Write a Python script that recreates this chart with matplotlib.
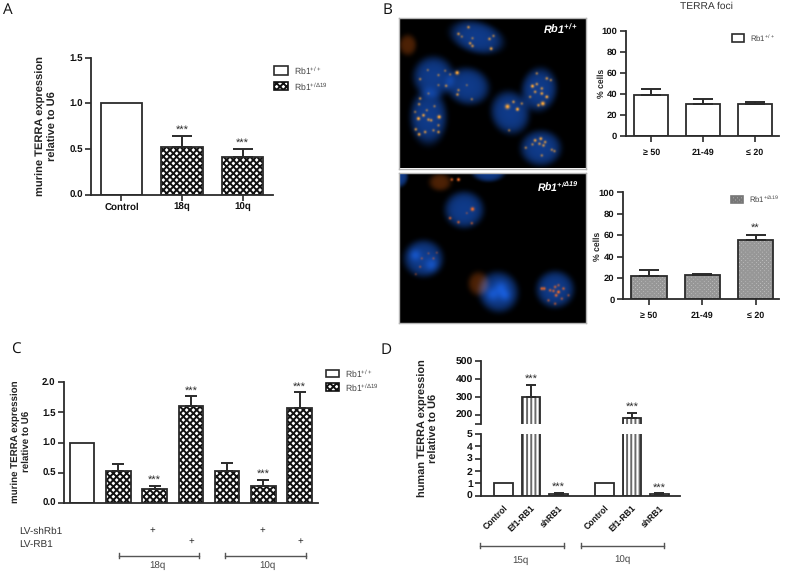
import numpy as np
import matplotlib
matplotlib.use('Agg')
import matplotlib.pyplot as plt
from matplotlib.patches import Rectangle

plt.rcParams['font.family'] = ['Liberation Sans', 'DejaVu Sans']
plt.rcParams['mathtext.default'] = 'regular'
plt.rcParams['hatch.linewidth'] = 1.4
plt.rcParams['text.hinting'] = 'no_hinting'

W, H = 787, 576
INK = '#2b2b2b'

# panel A
a_labels = ['Control', '18q', '10q']
a_values = [1.0, 0.52, 0.41]
a_errors = [0, 0.125, 0.095]

# panel B
b_labels = ['≥ 50', '21-49', '≤ 20']
b_top_values = [39, 30.5, 30]
b_top_errors = [5.5, 4, 2]
b_bot_values = [22, 22.5, 55]
b_bot_errors = [5, 1, 5.5]

# panel C
c_values = [1.0, 0.52, 0.22, 1.6, 0.52, 0.27, 1.57]
c_errors = [0, 0.12, 0.065, 0.165, 0.145, 0.115, 0.265]

# panel D
d_labels = ['Control', 'Ef1-RB1', 'shRB1', 'Control', 'Ef1-RB1', 'shRB1']
d_values = [1, 300, 0.15, 1, 180, 0.1]
d_errors = [0, 65, 0.1, 0, 30, 0.08]

# microscopy stand-ins (x, y, rx, ry, angle)
top_nuclei = [(245, 72, 80, 46, 15), (115, 190, 60, 60, 0), (218, 218, 64, 54, 15),
              (100, 310, 54, 80, 0), (345, 297, 56, 64, -20), (432, 228, 52, 64, 10),
              (437, 403, 60, 52, 0)]
top_haze = [(38, 95, 25, 30, 0)]
top_foci = [(220, 42, 1), (190, 62, 1), (232, 75, .7), (225, 90, 1), (232, 98, 1), (283, 77, 1),
            (295, 68, .8), (288, 106, 1.2), (200, 70, .7), (98, 170, .6), (130, 185, .7),
            (150, 172, .6), (165, 183, .6), (75, 197, .8), (153, 217, .9), (130, 215, .6),
            (186, 178, 2), (190, 230, .8), (187, 243, 1), (230, 257, .7), (215, 215, .5),
            (75, 255, .9), (72, 272, .9), (100, 240, .6), (118, 278, .7), (85, 305, 1.2),
            (70, 315, 1.6), (132, 310, 1.8), (100, 318, 1), (108, 320, 1), (62, 347, 1),
            (72, 362, 1.2), (90, 355, 1), (115, 350, .8), (130, 355, 1), (130, 335, .8),
            (95, 290, .7), (60, 295, .7), (337, 279, 3), (367, 287, 1.5), (355, 265, 1),
            (380, 270, .8), (342, 350, .7), (443, 270, 2.4), (412, 218, 1.5), (425, 212, 1),
            (440, 240, 1.2), (455, 250, 1.3), (425, 180, .8), (455, 195, 1), (467, 200, .8),
            (405, 250, .8), (430, 275, 1), (440, 225, 1), (420, 235, 1), (437, 375, 1.3),
            (420, 380, 1.2), (433, 390, 1), (450, 385, 1), (445, 395, 1), (392, 402, .8),
            (412, 392, .8), (470, 408, .8), (478, 412, .8), (440, 425, .8)]

bot_nuclei = [(207, 120, 58, 54, 0), (85, 265, 58, 54, 0), (310, 365, 58, 60, -30),
              (480, 357, 56, 54, 0), (280, 8, 48, 28, 0), (12, 20, 26, 32, 0)]
bot_haze = [(135, 38, 32, 25, 0), (250, 340, 30, 34, 0)]
bot_foci = [(232, 118, 2), (165, 145, 1), (190, 157, 1), (230, 160, .8), (215, 130, .5),
            (170, 30, 1), (190, 30, 1.4), (100, 250, .5), (115, 265, .6), (125, 248, .5),
            (80, 265, .6), (75, 290, .6), (62, 312, .5), (440, 355, 1.2), (447, 355, 1.2),
            (465, 360, 1), (480, 350, 1), (490, 365, 1.4), (505, 355, 1), (483, 375, 1.2),
            (475, 362, 1), (460, 390, .8), (480, 400, .8), (500, 385, .8), (520, 375, .7),
            (490, 345, .8)]
bot_bright = [(318, 352, 14), (292, 372, 14), (330, 375, 12), (110, 285, 14), (60, 255, 12)]


def px_axes(fig, left, top, right, bottom):
    return fig.add_axes([left / W, 1 - bottom / H, (right - left) / W, (bottom - top) / H])


def style_axes(ax):
    for side in ['top', 'right']:
        ax.spines[side].set_visible(False)
    for side in ['left', 'bottom']:
        ax.spines[side].set_linewidth(1.3)
        ax.spines[side].set_color(INK)
    ax.tick_params(width=1.2, length=4, color=INK, labelcolor='#111111', pad=2)
    for lab in ax.get_yticklabels() + ax.get_xticklabels():
        lab.set_fontweight('bold')


def draw_bars(ax, x, values, errors, width, kinds, cap, lw=1.3):
    for xi, v, e, kind in zip(x, values, errors, kinds):
        if kind == 'check':
            ax.bar(xi, v, width, color='white', edgecolor='#111111', hatch='xxxxx', linewidth=0)
        elif kind == 'fine':
            ax.bar(xi, v, width, color='#c4c4c4', edgecolor='#979797', hatch='xxxxxxxx', linewidth=0)
        elif kind == 'stripe':
            ax.bar(xi, v, width, color='white', edgecolor='#6a6a6a', hatch='||||', linewidth=0)
        ax.bar(xi, v, width, fill=False, edgecolor=INK, linewidth=lw)
        if e > 0:
            ax.errorbar(xi, v, yerr=[[0], [e]], color=INK, capsize=cap, elinewidth=1.4, capthick=1.4)


def legend_item(over, x0, x1, y0, y1, label, check=None, size=6.2):
    if check == 'check':
        over.add_patch(Rectangle((x0, y0), x1 - x0, y1 - y0, facecolor='white', edgecolor='#111111', hatch='xxxxx', lw=1.2))
    elif check == 'fine':
        over.add_patch(Rectangle((x0, y0), x1 - x0, y1 - y0, facecolor='#c4c4c4', edgecolor='#777777', hatch='xxxxxxxx', lw=1.2))
    else:
        over.add_patch(Rectangle((x0, y0), x1 - x0, y1 - y0, facecolor='white', edgecolor=INK, lw=1.2))
    over.text(x1 + 6, (y0 + y1) / 2, label, fontsize=size, color='#444444', va='center')


def bracket(over, x0, x1, y, label, label_x, label_y):
    over.plot([x0, x1], [y, y], color='#555555', lw=1)
    for xe in [x0, x1]:
        over.plot([xe, xe], [y - 2.5, y + 2.5], color='#555555', lw=1)
    over.text(label_x, label_y, label, fontsize=7, color='#444444', ha='center', va='center')


def render_photo(ax, w, h, nuclei, haze, foci, focus_rgb, bright=()):
    yy, xx = np.mgrid[0:h, 0:w]
    img = np.zeros((h, w, 3))
    blue = np.array([0.06, 0.23, 0.54])
    for cx, cy, rx, ry, ang in nuclei:
        t = np.deg2rad(ang)
        u = (xx - cx) * np.cos(t) + (yy - cy) * np.sin(t)
        v = -(xx - cx) * np.sin(t) + (yy - cy) * np.cos(t)
        r2 = (u / rx) ** 2 + (v / ry) ** 2
        mask = np.exp(-r2 ** 3) * (0.8 + 0.2 * np.exp(-r2))
        img += mask[..., None] * blue
    for cx, cy, r in bright:
        blob = np.exp(-((xx - cx) ** 2 + (yy - cy) ** 2) / (2 * r ** 2))
        img += blob[..., None] * blue * 0.45
    for cx, cy, rx, ry, ang in haze:
        r2 = ((xx - cx) / rx) ** 2 + ((yy - cy) / ry) ** 2
        img += np.exp(-r2 ** 2)[..., None] * np.array([0.30, 0.13, 0.02])
    for cx, cy, amp in foci:
        sigma = 2.2 + 0.9 * amp
        blob = np.exp(-((xx - cx) ** 2 + (yy - cy) ** 2) / (2 * sigma ** 2)) * min(0.7 * amp, 1.0)
        img = img * (1 - blob[..., None]) + blob[..., None] * np.array(focus_rgb)
    ax.imshow(np.clip(img, 0, 1), extent=(0, w, h, 0), interpolation='bilinear', aspect='auto')
    ax.set_xticks([])
    ax.set_yticks([])
    for s in ax.spines.values():
        s.set_color('#b5b5b5')
        s.set_linewidth(1)


fig = plt.figure(figsize=(W / 100, H / 100), dpi=100, facecolor='white')

# overlay in pixel coordinates for notes, legends and stars
over = fig.add_axes([0, 0, 1, 1], zorder=10)
over.set_xlim(0, W)
over.set_ylim(H, 0)
over.axis('off')

# A
ax = px_axes(fig, 91, 57.7, 273, 194.7)
x = np.arange(len(a_values))
draw_bars(ax, x, a_values, a_errors, 0.68, ['plain', 'check', 'check'], 7.2)
ax.set_xlim(-0.504, 2.504)
ax.set_ylim(0, 1.5)
ax.set_yticks([0, 0.5, 1.0, 1.5])
ax.set_yticklabels(['0.0', '0.5', '1.0', '1.5'], fontsize=7)
ax.set_xticks(x)
ax.set_xticklabels(a_labels, fontsize=7)
style_axes(ax)
ax.text(1, a_values[1] + a_errors[1] + 0.01, '***', ha='center', va='bottom', fontsize=8, color=INK)
ax.text(2, a_values[2] + a_errors[2] + 0.01, '***', ha='center', va='bottom', fontsize=8, color=INK)
over.text(47, 126, 'murine TERRA expression\nrelative to U6', rotation=90, ha='center', va='center',
          fontsize=8, fontweight='bold', color='#222222', linespacing=1.15)
legend_item(over, 274, 288, 66, 75, 'Rb1$^{+/+}$')
legend_item(over, 274, 288, 82, 90, 'Rb1$^{+/\\Delta19}$', 'check')

# B photos
ph = px_axes(fig, 399, 18, 586, 168.5)
render_photo(ph, 561, 451, [(c[0] - 12, c[1] - 12, c[2], c[3], c[4]) for c in top_nuclei],
             [(c[0] - 12, c[1] - 12, c[2], c[3], c[4]) for c in top_haze],
             [(f[0] - 12, f[1] - 12, f[2]) for f in top_foci], (1.0, 0.66, 0.22))
ph = px_axes(fig, 399, 172.7, 586, 322.7)
render_photo(ph, 561, 450, [(c[0] - 12, c[1] - 8, c[2], c[3], c[4]) for c in bot_nuclei],
             [(c[0] - 12, c[1] - 8, c[2], c[3], c[4]) for c in bot_haze],
             [(f[0] - 12, f[1] - 8, f[2]) for f in bot_foci], (0.95, 0.42, 0.15),
             [(b[0] - 12, b[1] - 8, b[2]) for b in bot_bright])
over.text(560, 29, 'Rb1$^{+/+}$', color='white', style='italic', fontweight='bold', fontsize=7.8, ha='center', va='center')
over.text(558, 186, 'Rb1$^{+/\\Delta19}$', color='white', style='italic', fontweight='bold', fontsize=7.6, ha='center', va='center')

# B charts
over.text(706.7, 6, 'TERRA foci', fontsize=7.4, color='#333333', ha='center', va='center')
ax = px_axes(fig, 625.7, 30.7, 779, 135.7)
x = np.arange(3)
draw_bars(ax, x, b_top_values, b_top_errors, 0.667, ['plain'] * 3, 7)
ax.set_xlim(-0.49, 2.46)
ax.set_ylim(0, 100)
ax.set_yticks(range(0, 101, 20))
ax.tick_params(labelsize=6.8)
ax.set_xticks(x)
ax.set_xticklabels(b_labels, fontsize=6.4)
style_axes(ax)
ax.tick_params(axis='x', pad=5)
over.text(601.7, 83, '% cells', rotation=90, fontsize=6.2, fontweight='bold', color='#222222', ha='center', va='center')
legend_item(over, 732, 744, 34, 42, 'Rb1$^{+/+}$', size=5.6)

ax = px_axes(fig, 623, 192.3, 779, 299.3)
draw_bars(ax, x, b_bot_values, b_bot_errors, 0.667, ['fine'] * 3, 7)
ax.set_xlim(-0.49, 2.44)
ax.set_ylim(0, 100)
ax.set_yticks(range(0, 101, 20))
ax.tick_params(labelsize=6.8)
ax.set_xticks(x)
ax.set_xticklabels(b_labels, fontsize=6.4)
style_axes(ax)
ax.tick_params(axis='x', pad=5)
ax.text(2, b_bot_values[2] + b_bot_errors[2] + 1.5, '**', ha='center', va='bottom', fontsize=8, color=INK)
over.text(598, 246, '% cells', rotation=90, fontsize=6.2, fontweight='bold', color='#222222', ha='center', va='center')
legend_item(over, 731, 743, 195.7, 203.3, 'Rb1$^{+/\\Delta19}$', 'fine', size=5.6)

# C
ax = px_axes(fig, 64, 382.3, 317.7, 502.7)
x = np.arange(len(c_values))
draw_bars(ax, x, c_values, c_errors, 0.674, ['plain'] + ['check'] * 6, 4.5)
ax.set_xlim(-0.5, 6.5)
ax.set_ylim(0, 2.0)
ax.set_yticks([0, 0.5, 1.0, 1.5, 2.0])
ax.set_yticklabels(['0.0', '0.5', '1.0', '1.5', '2.0'], fontsize=7)
ax.set_xticks([])
style_axes(ax)
for i in [2, 3, 5, 6]:
    ax.text(i, c_values[i] + c_errors[i] + 0.01, '***', ha='center', va='bottom', fontsize=8, color=INK)
over.text(21, 441.7, 'murine TERRA expression\nrelative to U6', rotation=90, ha='center', va='center',
          fontsize=7, fontweight='bold', color='#222222', linespacing=1.15)
legend_item(over, 325.7, 339, 369.7, 377.3, 'Rb1$^{+/+}$')
legend_item(over, 325.7, 339, 383.3, 391, 'Rb1$^{+/\\Delta19}$', 'check')
over.text(19, 531, 'LV-shRb1', fontsize=7.2, color='#333333', va='center')
over.text(19, 544, 'LV-RB1', fontsize=7.2, color='#333333', va='center')
for px, py in [(152.7, 530), (191, 541.5), (262, 530), (300, 541.5)]:
    over.text(px, py, '+', fontsize=7, color='#222222', ha='center', va='center')
bracket(over, 118.7, 199.3, 555.7, '18q', 157.7, 566.7)
bracket(over, 225, 305.7, 555.7, '10q', 267.7, 566.7)

# D, broken y axis
d_x = [0, 1, 2, 3.67, 4.67, 5.67]
d_kinds = ['plain', 'stripe', 'plain', 'plain', 'stripe', 'plain']
low = px_axes(fig, 481, 433.7, 680, 495.7)
high = px_axes(fig, 481, 361, 680, 423.7)
draw_bars(low, d_x, d_values, d_errors, 0.68, d_kinds, 3.6)
draw_bars(high, d_x, d_values, d_errors, 0.68, d_kinds, 3.6)
low.set_ylim(0, 5)
high.set_ylim(150, 500)
for a in [low, high]:
    a.set_xlim(-0.82, 6.42)
low.set_yticks(range(0, 6))
low.tick_params(labelsize=7.5)
low.set_xticks(d_x)
low.set_xticklabels(d_labels, rotation=45, ha='right', rotation_mode='anchor', fontsize=6.2)
high.set_yticks([150, 200, 300, 400, 500])
high.set_yticklabels(['', '200', '300', '400', '500'], fontsize=7.5)
high.set_xticks([])
style_axes(low)
style_axes(high)
low.tick_params(axis='x', length=0, pad=6)
high.spines['bottom'].set_visible(False)
high.text(d_x[1], d_values[1] + d_errors[1] + 5, '***', ha='center', va='bottom', fontsize=8, color=INK)
high.text(d_x[4], d_values[4] + d_errors[4] + 5, '***', ha='center', va='bottom', fontsize=8, color=INK)
low.text(d_x[2], d_values[2] + d_errors[2] + 0.02, '***', ha='center', va='bottom', fontsize=8, color=INK)
low.text(d_x[5], d_values[5] + d_errors[5] + 0.02, '***', ha='center', va='bottom', fontsize=8, color=INK)
over.text(428.5, 428, 'human TERRA expression\nrelative to U6', rotation=90, ha='center', va='center',
          fontsize=7.9, fontweight='bold', color='#222222', linespacing=1.15)
bracket(over, 480.3, 563.7, 545.7, '15q', 520, 560)
bracket(over, 580.7, 664, 545.7, '10q', 622.7, 560)

# panel letters
for letter, px, py in [('A', 7.5, 10), ('B', 387, 10), ('C', 16, 350), ('D', 386, 350)]:
    over.text(px, py, letter, fontsize=11, family='Open Sans', color='#111111', ha='center', va='center')

fig.savefig('out.png', dpi=100)
